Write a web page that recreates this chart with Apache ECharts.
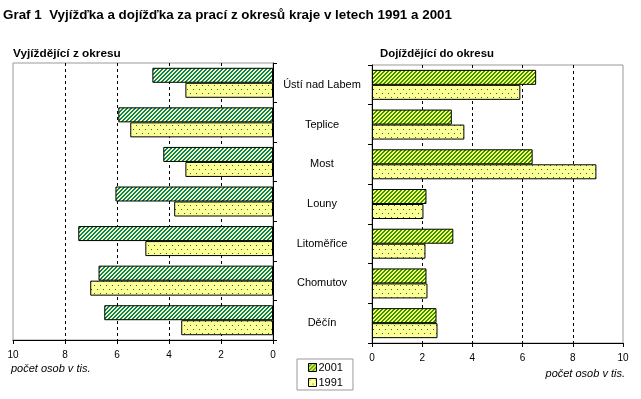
<!DOCTYPE html>
<html>
<head>
<meta charset="utf-8">
<script src="https://cdn.jsdelivr.net/npm/echarts@6/dist/echarts.min.js"></script>
<style>
  html, body { margin: 0; padding: 0; background: #fff; }
  #chart { width: 641px; height: 399px; }
</style>
</head>
<body>
<div id="chart"></div>
<script>
// okresy a hodnoty (tis. osob)
const districts = ['Ústí nad Labem', 'Teplice', 'Most', 'Louny', 'Litoměřice', 'Chomutov', 'Děčín']
const outflow2001 = [4.64, 5.95, 4.22, 6.06, 7.49, 6.71, 6.49]
const outflow1991 = [3.37, 5.49, 3.37, 3.80, 4.91, 7.03, 3.53]
const inflow2001 = [6.54, 3.18, 6.40, 2.17, 3.24, 2.17, 2.57]
const inflow1991 = [5.91, 3.68, 8.94, 2.05, 2.13, 2.21, 2.61]
const years = ['2001', '1991']

const sans = '"Liberation Sans", Arial, sans-serif'

// vzory výplní
function hatch (bg, fg) {
  const c = document.createElement('canvas')
  c.width = 4; c.height = 4
  const ctx = c.getContext('2d')
  ctx.fillStyle = bg
  ctx.fillRect(0, 0, 4, 4)
  ctx.fillStyle = fg
  for (let x = 0; x < 4; x++) {
    for (let y = 0; y < 4; y++) {
      if ((x + y) % 4 < 2) ctx.fillRect(x, y, 1, 1)
    }
  }
  return { image: c, repeat: 'repeat' }
}
function dots (bg, fg) {
  const c = document.createElement('canvas')
  c.width = 6; c.height = 8
  const ctx = c.getContext('2d')
  ctx.fillStyle = bg
  ctx.fillRect(0, 0, 6, 8)
  ctx.fillStyle = fg
  ctx.fillRect(1, 1, 1, 1)
  ctx.fillRect(4, 5, 1, 1)
  return { image: c, repeat: 'repeat' }
}
const tealHatch = hatch('#008080', '#ffff99')
const greenHatch = hatch('#339900', '#ffff66')
const yellowDots = dots('#ffff99', '#008000')

const chart = echarts.init(document.getElementById('chart'))

const xAxisBase = {
  type: 'value',
  min: 0,
  max: 10,
  interval: 2,
  axisLine: { show: true, lineStyle: { color: '#000', width: 1 } },
  axisTick: { show: true, length: 4, lineStyle: { color: '#000' } },
  axisLabel: { color: '#000', fontFamily: sans, fontSize: 10, margin: 10 },
  splitLine: {
    show: true,
    showMinLine: false,
    showMaxLine: false,
    lineStyle: { color: '#000', type: [3, 3], width: 1 }
  }
}

const barStyle = (fill) => ({ color: fill, borderColor: '#000', borderWidth: 1 })

const option = {
  animation: false,
  backgroundColor: '#fff',
  title: [
    {
      text: 'Graf 1  Vyjížďka a dojížďka za prací z okresů kraje v letech 1991 a 2001',
      left: 3,
      top: 9,
      padding: 0,
      textStyle: { fontFamily: sans, fontWeight: 'bold', fontSize: 13.4, color: '#000' }
    },
    {
      text: 'Vyjíždějící z okresu',
      left: 13,
      top: 48,
      padding: 0,
      textStyle: { fontFamily: sans, fontWeight: 'bold', fontSize: 11.8, color: '#000' }
    },
    {
      text: 'Dojíždějící do okresu',
      left: 380,
      top: 48,
      padding: 0,
      textStyle: { fontFamily: sans, fontWeight: 'bold', fontSize: 11.4, color: '#000' }
    }
  ],
  legend: {
    orient: 'vertical',
    left: 297,
    top: 359,
    padding: [3, 10, 2, 11],
    itemWidth: 8,
    itemHeight: 8,
    itemGap: 4,
    borderColor: '#999',
    borderWidth: 1,
    textStyle: { fontFamily: sans, fontSize: 11, color: '#000', padding: [0, 0, 0, -3] },
    data: [
      { name: years[0], icon: 'rect', itemStyle: barStyle(greenHatch) },
      { name: years[1], icon: 'rect', itemStyle: barStyle(yellowDots) }
    ]
  },
  grid: [
    { left: 13, right: 368, top: 63, bottom: 59, show: true, borderColor: '#999', borderWidth: 1 },
    { left: 372, right: 18, top: 65, bottom: 56, show: true, borderColor: '#999', borderWidth: 1 }
  ],
  xAxis: [
    Object.assign({}, xAxisBase, { gridIndex: 0, inverse: true }),
    Object.assign({}, xAxisBase, { gridIndex: 1 })
  ],
  yAxis: [
    {
      type: 'category',
      gridIndex: 0,
      position: 'right',
      inverse: true,
      data: districts,
      axisLine: { show: true, lineStyle: { color: '#000' } },
      axisTick: { show: true, length: 4, lineStyle: { color: '#000' } },
      axisLabel: { show: false }
    },
    {
      type: 'category',
      gridIndex: 1,
      position: 'left',
      inverse: true,
      data: districts,
      axisLine: { show: true, lineStyle: { color: '#000' } },
      axisTick: { show: true, length: 4, lineStyle: { color: '#000' } },
      axisLabel: { align: 'center', margin: 50, color: '#000', fontFamily: sans, fontSize: 11 }
    }
  ],
  series: [
    {
      name: years[0], type: 'bar', xAxisIndex: 0, yAxisIndex: 0,
      data: outflow2001, barWidth: 15, barGap: '0%', itemStyle: barStyle(tealHatch)
    },
    {
      name: years[1], type: 'bar', xAxisIndex: 0, yAxisIndex: 0,
      data: outflow1991, barWidth: 15, barGap: '0%', itemStyle: barStyle(yellowDots)
    },
    {
      name: years[0], type: 'bar', xAxisIndex: 1, yAxisIndex: 1,
      data: inflow2001, barWidth: 15, barGap: '0%', itemStyle: barStyle(greenHatch)
    },
    {
      name: years[1], type: 'bar', xAxisIndex: 1, yAxisIndex: 1,
      data: inflow1991, barWidth: 15, barGap: '0%', itemStyle: barStyle(yellowDots)
    }
  ],
  graphic: [
    {
      type: 'text', left: 11, top: 363,
      style: { text: 'počet osob v tis.', fontFamily: sans, fontStyle: 'italic', fontSize: 11, fill: '#000' }
    },
    {
      type: 'text', right: 16, top: 368,
      style: { text: 'počet osob v tis.', fontFamily: sans, fontStyle: 'italic', fontSize: 11, fill: '#000' }
    }
  ]
}

chart.setOption(option)
</script>
</body>
</html>
